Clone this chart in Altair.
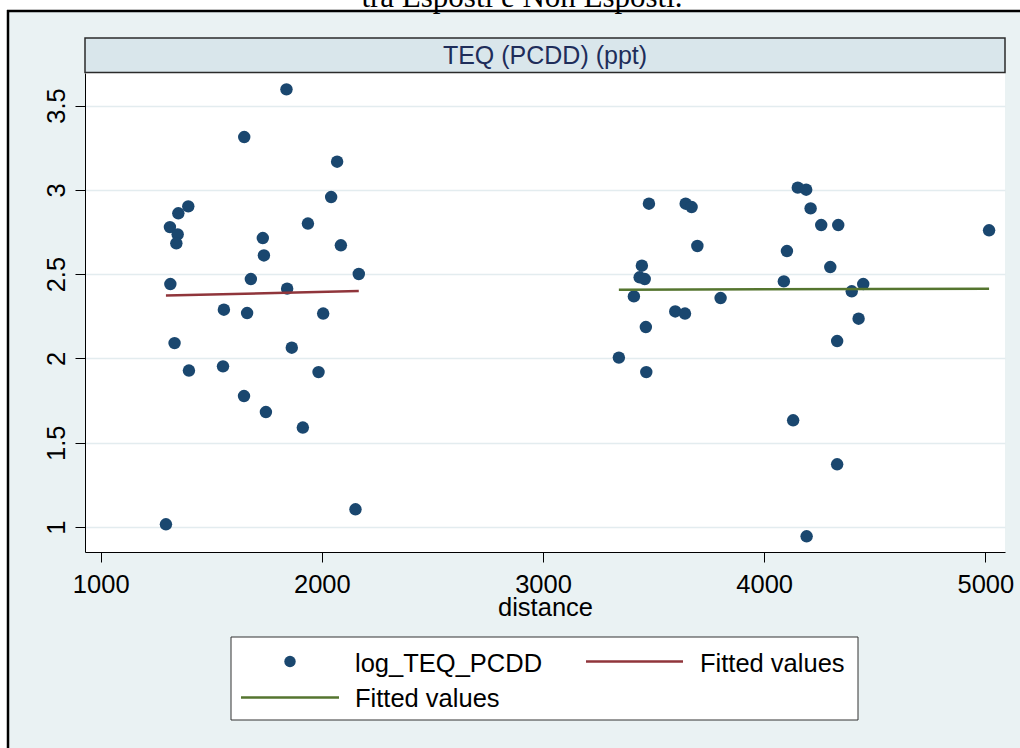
import altair as alt
import pandas as pd

# log_TEQ_PCDD against distance, split into the two groups of sites
near_distance = [1840, 1649, 2069, 2042, 1396, 1351, 1937, 1313, 1348, 1342,
                 1733, 1738, 2086, 2167, 1679, 1315, 1843, 1557, 1662, 2006,
                 1334, 1864, 1399, 1553, 1985, 1648, 1747, 1914, 1295, 2152]
near_log_teq = [3.596, 3.313, 3.167, 2.957, 2.902, 2.861, 2.800, 2.779, 2.736, 2.683,
                2.714, 2.611, 2.671, 2.501, 2.471, 2.441, 2.414, 2.289, 2.269, 2.266,
                2.091, 2.064, 1.928, 1.953, 1.919, 1.777, 1.682, 1.590, 1.016, 1.105]

far_distance = [4152, 4190, 3479, 3645, 3672, 4210, 4258, 4335, 5017, 3698,
                4103, 3447, 3437, 3460, 4299, 4089, 4448, 4396, 3411, 3803,
                3598, 3642, 4427, 3465, 4330, 3343, 3467, 4131, 4330, 4192]
far_log_teq = [3.013, 3.001, 2.918, 2.918, 2.898, 2.890, 2.791, 2.791, 2.760, 2.667,
               2.637, 2.550, 2.481, 2.471, 2.542, 2.457, 2.441, 2.398, 2.368, 2.358,
               2.279, 2.266, 2.236, 2.186, 2.103, 2.005, 1.919, 1.633, 1.372, 0.945]

groups = ["Esposti", "Non Esposti"]
x_ticks = [1000, 2000, 3000, 4000, 5000]
y_ticks = [1, 1.5, 2, 2.5, 3, 3.5]
x_domain = [929, 5089]
y_domain = [0.852, 3.693]

panel_title = "TEQ (PCDD) (ppt)"
caption = "tra Esposti e Non Esposti."
legend_labels = ["log_TEQ_PCDD", "Fitted values", "Fitted values"]

NAVY = "#1A476F"
FIT_COLORS = ["#90353B", "#55752F"]
FONT = "Liberation Sans"

df = pd.DataFrame({
    "distance": near_distance + far_distance,
    "log_TEQ_PCDD": near_log_teq + far_log_teq,
    "gruppo": [groups[0]] * len(near_distance) + [groups[1]] * len(far_distance),
})

W, H = 920, 479
LEFT, TOP = 85, 73


def px(v):
    return alt.value(v - LEFT)


def py(v):
    return alt.value(v - TOP)


one = alt.Chart(pd.DataFrame({"k": [0]}))

x_scale = alt.Scale(domain=x_domain, nice=False, zero=False)
y_scale = alt.Scale(domain=y_domain, nice=False, zero=False)

x_axis = alt.Axis(
    values=x_ticks, format="d", grid=False, tickSize=10, labelPadding=30,
    labelBaseline="alphabetic", labelFlush=False, labelFontSize=25.5,
    title="distance", titleFontSize=25.5, titleFontWeight="normal",
    titleBaseline="alphabetic", titleY=63, zindex=1,
)
y_axis = alt.Axis(
    values=y_ticks, format="~g", grid=True, gridColor="#E3ECEF", gridWidth=1.6,
    tickSize=10, labelAngle=-90, labelAlign="center", labelBaseline="alphabetic",
    labelPadding=11, labelFontSize=25.5, title=None,
)

# outer graph region: white margin above/left, black frame edge
margin_top = one.mark_rect(color="white").encode(
    x=px(0), x2=px(1020), y=py(0), y2=py(10))
margin_left = one.mark_rect(color="white").encode(
    x=px(0), x2=px(7), y=py(0), y2=py(748))
frame_top = one.mark_rule(color="black", strokeWidth=2.5).encode(
    x=px(7), x2=px(1020), y=py(11))
frame_left = one.mark_rule(color="black", strokeWidth=2.5).encode(
    x=px(8), y=py(10), y2=py(748))
caption_text = one.mark_text(
    font="Liberation Serif", fontSize=31, align="center", baseline="alphabetic", color="black"
).encode(x=px(522), y=py(7), text=alt.value(caption))

# panel strip
strip = one.mark_rect(fill="#D9E6EB", stroke="#2B2B2B", strokeWidth=1.5).encode(
    x=px(85), x2=px(1005), y=py(38), y2=py(72.5))
strip_text = one.mark_text(
    font=FONT, fontSize=25, align="center", baseline="middle", color="#1E2D5A"
).encode(x=px(545), y=py(55.5), text=alt.value(panel_title))

points = alt.Chart(df).mark_point(
    filled=True, shape="circle", size=155, color=NAVY, opacity=1
).encode(
    x=alt.X("distance:Q", scale=x_scale, axis=x_axis),
    y=alt.Y("log_TEQ_PCDD:Q", scale=y_scale, axis=y_axis),
)

fits = alt.Chart(df).transform_regression(
    "distance", "log_TEQ_PCDD", groupby=["gruppo"]
).mark_line(strokeWidth=2.5).encode(
    x=alt.X("distance:Q", scale=x_scale, axis=x_axis),
    y=alt.Y("log_TEQ_PCDD:Q", scale=y_scale, axis=y_axis),
    color=alt.Color("gruppo:N", scale=alt.Scale(domain=groups, range=FIT_COLORS), legend=None),
)

# legend box
leg_box = one.mark_rect(fill="white", stroke="#333333", strokeWidth=1).encode(
    x=px(231), x2=px(858), y=py(637), y2=py(720))
leg_dot = one.mark_point(filled=True, shape="circle", size=130, color=NAVY, opacity=1).encode(
    x=px(290), y=py(661.5))
leg_red = one.mark_rule(color=FIT_COLORS[0], strokeWidth=2.5).encode(
    x=px(586), x2=px(683), y=py(661.5))
leg_green = one.mark_rule(color=FIT_COLORS[1], strokeWidth=2.5).encode(
    x=px(241), x2=px(339), y=py(697.5))
leg_text_style = dict(font=FONT, fontSize=25.5, align="left", baseline="alphabetic", color="black")
leg_t1 = one.mark_text(**leg_text_style).encode(x=px(355), y=py(671.5), text=alt.value(legend_labels[0]))
leg_t2 = one.mark_text(**leg_text_style).encode(x=px(700), y=py(671.5), text=alt.value(legend_labels[1]))
leg_t3 = one.mark_text(**leg_text_style).encode(x=px(355), y=py(706.5), text=alt.value(legend_labels[2]))

chart = alt.layer(
    margin_top, margin_left, frame_top, frame_left, caption_text,
    strip, strip_text, points, fits,
    leg_box, leg_dot, leg_red, leg_green, leg_t1, leg_t2, leg_t3,
).properties(
    width=W, height=H,
    padding={"left": LEFT, "top": TOP, "right": 1020 - LEFT - W, "bottom": 748 - TOP - H},
    autosize=alt.AutoSizeParams(type="none"),
    background="#EAF2F3",
).configure_view(
    fill="white", stroke=None,
).configure_axis(
    labelFont=FONT, titleFont=FONT, labelColor="black", titleColor="black",
    domainColor="black", domainWidth=1, tickColor="black", tickWidth=1,
)

chart.save("out.html", embed_options={"renderer": "svg", "actions": False})
